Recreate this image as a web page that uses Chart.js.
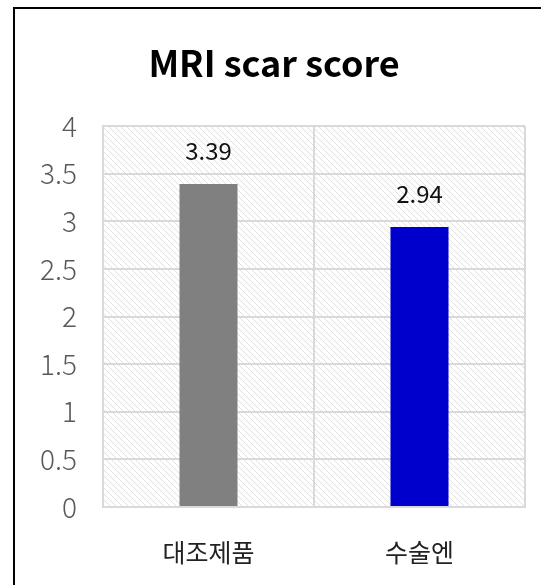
<!DOCTYPE html>
<html>
<head>
<meta charset="utf-8">
<script src="https://cdn.jsdelivr.net/npm/chart.js@4"></script>
<style>
  html, body { margin: 0; padding: 0; background: #fff; }
  #wrap { width: 541px; height: 585px; position: relative; }
</style>
</head>
<body>
<div id="wrap"><canvas id="chart" width="541" height="585"></canvas></div>
<script>
// chart data
const categories = ['대조제품', '수술엔'];
const scores = [3.39, 2.94];
const barColors = ['#808080', '#0000cc'];
const yTicks = [0, 0.5, 1, 1.5, 2, 2.5, 3, 3.5, 4];
const chartTitle = 'MRI scar score';

const FONT = '"Noto Sans CJK KR", "Noto Sans", sans-serif';

// diagonal hatch used as the plot background
function makeHatch() {
    const c = document.createElement('canvas');
    c.width = 6; c.height = 6;
    const g = c.getContext('2d');
    g.fillStyle = '#fff';
    g.fillRect(0, 0, 6, 6);
    g.strokeStyle = '#e0e0e0';
    g.lineWidth = 1;
    g.beginPath();
    g.moveTo(-2, -2); g.lineTo(8, 8);
    g.moveTo(-8, -2); g.lineTo(2, 8);
    g.moveTo(4, -2); g.lineTo(14, 8);
    g.stroke();
    return g.createPattern(c, 'repeat');
}

const decor = {
    id: 'decor',
    beforeDraw(chart) {
        const { ctx, chartArea: a } = chart;
        ctx.save();
        ctx.fillStyle = makeHatch();
        ctx.fillRect(a.left, a.top, a.right - a.left, a.bottom - a.top);
        // outer frame
        ctx.strokeStyle = '#000';
        ctx.lineWidth = 2;
        ctx.strokeRect(14, 8, 540, 600);
        // title
        ctx.fillStyle = '#000';
        ctx.font = 'bold 36px ' + FONT;
        ctx.textAlign = 'center';
        ctx.textBaseline = 'middle';
        ctx.fillText(chartTitle, 274, 63);
        ctx.restore();
    },
    afterDatasetsDraw(chart) {
        const { ctx } = chart;
        const meta = chart.getDatasetMeta(0);
        ctx.save();
        ctx.fillStyle = '#111';
        ctx.font = '24px ' + FONT;
        ctx.textAlign = 'center';
        ctx.textBaseline = 'middle';
        meta.data.forEach((bar, i) => {
            ctx.fillText(scores[i].toFixed(2), bar.x, bar.y - 33);
        });
        ctx.restore();
    }
};

new Chart(document.getElementById('chart'), {
    type: 'bar',
    data: {
        labels: categories,
        datasets: [{
            data: scores,
            backgroundColor: barColors,
            borderWidth: 0,
            barPercentage: 0.275,
            categoryPercentage: 1
        }]
    },
    options: {
        responsive: false,
        animation: false,
        layout: { padding: { top: 126, right: 16, left: 0, bottom: 0 } },
        plugins: {
            legend: { display: false },
            tooltip: { enabled: false }
        },
        scales: {
            x: {
                offset: true,
                grid: { color: '#d9d9d9', lineWidth: 2, drawTicks: false, offset: true },
                border: { color: '#d9d9d9', width: 2 },
                ticks: { color: '#222', font: { family: FONT, size: 25 }, padding: 30 },
                afterFit: s => { s.height = 78; }
            },
            y: {
                min: 0,
                max: 4,
                afterBuildTicks: s => { s.ticks = yTicks.map(v => ({ value: v })); },
                grid: { color: '#d9d9d9', lineWidth: 2, drawTicks: false },
                border: { color: '#d9d9d9', width: 2 },
                ticks: {
                    color: '#595959',
                    font: { family: FONT, size: 28, weight: '300' },
                    padding: 26,
                    callback: v => String(v)
                },
                afterFit: s => { s.width = 103; }
            }
        }
    },
    plugins: [decor]
});
</script>
</body>
</html>
